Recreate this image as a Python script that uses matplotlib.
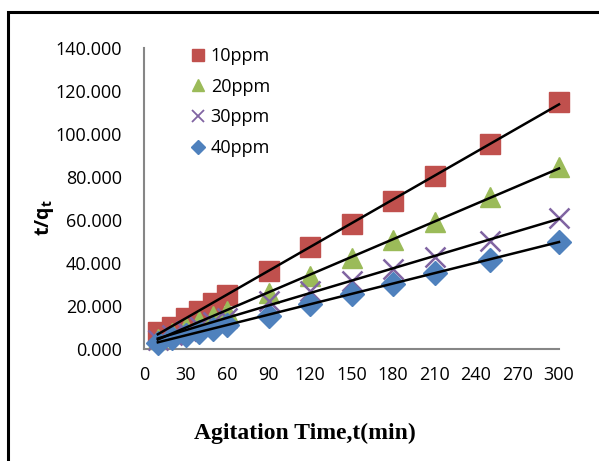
import numpy as np
import matplotlib.pyplot as plt
from matplotlib.patches import Rectangle
from matplotlib.lines import Line2D

# agitation time (min) and t/qt for each concentration
t_min = [10, 20, 30, 40, 50, 60, 90, 120, 150, 180, 210, 250, 300]
ppm10 = [7.9, 10.3, 14.5, 17.7, 21.5, 25.2, 36.2, 47.4, 58.1, 68.8, 80.3, 95.2, 114.8]
ppm20 = [4.7, 7.5, 10.3, 13.0, 15.4, 17.7, 25.9, 34.0, 42.3, 50.9, 59.2, 70.5, 84.5]
ppm30 = [4.0, 6.5, 8.5, 10.5, 12.5, 14.5, 22.4, 27.0, 31.5, 37.0, 43.0, 50.4, 60.7]
ppm40 = [3.0, 5.0, 6.5, 8.0, 9.5, 11.0, 15.4, 21.0, 25.7, 30.3, 35.5, 41.5, 49.9]
labels = ['10ppm', '20ppm', '30ppm', '40ppm']

W, H = 599, 461
plt.rcParams['mathtext.fontset'] = 'custom'
plt.rcParams['mathtext.bf'] = 'Open Sans:bold'
plt.rcParams['mathtext.rm'] = 'Open Sans'

fig = plt.figure(figsize=(W / 100, H / 100), dpi=100)
ax = fig.add_axes([144 / W, (H - 349) / H, (559 - 144) / W, (349 - 48) / H])

series = [ppm10, ppm20, ppm30, ppm40]
styles = [('s', '#C0504D', 14), ('^', '#9BBB59', 14), ('x', '#8064A2', 14), ('D', '#4F81BD', 12)]
leg_sizes = [8.5, 9, 8, 7]
x = np.array(t_min)
handles = []
for ys, (m, c, ms), lab, ls in zip(series, styles, labels, leg_sizes):
    mew = 1.8 if m == 'x' else 1
    ax.plot(x, ys, ls='none', marker=m, color=c, mec=c, ms=ms, mew=mew, clip_on=False, zorder=3)
    handles.append(Line2D([], [], ls='none', marker=m, color=c, mec=c, ms=ls,
                          mew=1.3 if m == 'x' else 1, label=lab))

# linear trend lines
for ys in series:
    k, b = np.polyfit(x, ys, 1)
    ax.plot([x[0], x[-1]], [k * x[0] + b, k * x[-1] + b], color='black', lw=1.8, zorder=4, clip_on=False)

ax.set_xlim(0, 300)
ax.set_ylim(0, 140)
ax.set_xticks(range(0, 301, 30))
ax.set_yticks(range(0, 141, 20))
ax.set_yticklabels(['%.3f' % v for v in range(0, 141, 20)])
for s in ['top', 'right']:
    ax.spines[s].set_visible(False)
for s in ['left', 'bottom']:
    ax.spines[s].set_color('#868686')
    ax.spines[s].set_linewidth(1.5)
ax.tick_params(length=0, labelsize=13)
ax.tick_params(axis='y', pad=16)
ax.tick_params(axis='x', pad=12)
for t in ax.get_xticklabels() + ax.get_yticklabels():
    t.set_fontfamily('Open Sans')

leg = ax.legend(handles=handles, loc='upper left', bbox_to_anchor=(189 / W, 1 - 47 / H),
                bbox_transform=fig.transFigure, frameon=False,
                prop={'family': 'Open Sans', 'size': 13}, handlelength=1.0,
                handletextpad=0.2, labelspacing=0.7, borderpad=0, borderaxespad=0)

fig.text(44 / W, 1 - 218 / H, r'$\mathbf{t/q_t}$', rotation=90, ha='center', va='center',
         fontsize=14)
fig.text(305 / W, 1 - 433 / H, 'Agitation Time,t(min)', ha='center', va='center',
         fontsize=17, fontweight='bold', fontfamily='Liberation Serif')

# outer border
fig.patches.append(Rectangle((8 / W, -0.1), 1.2, 1 - 12 / H + 0.1, transform=fig.transFigure,
                             fill=False, edgecolor='black', lw=2.2))

fig.savefig('out.png', dpi=100)
